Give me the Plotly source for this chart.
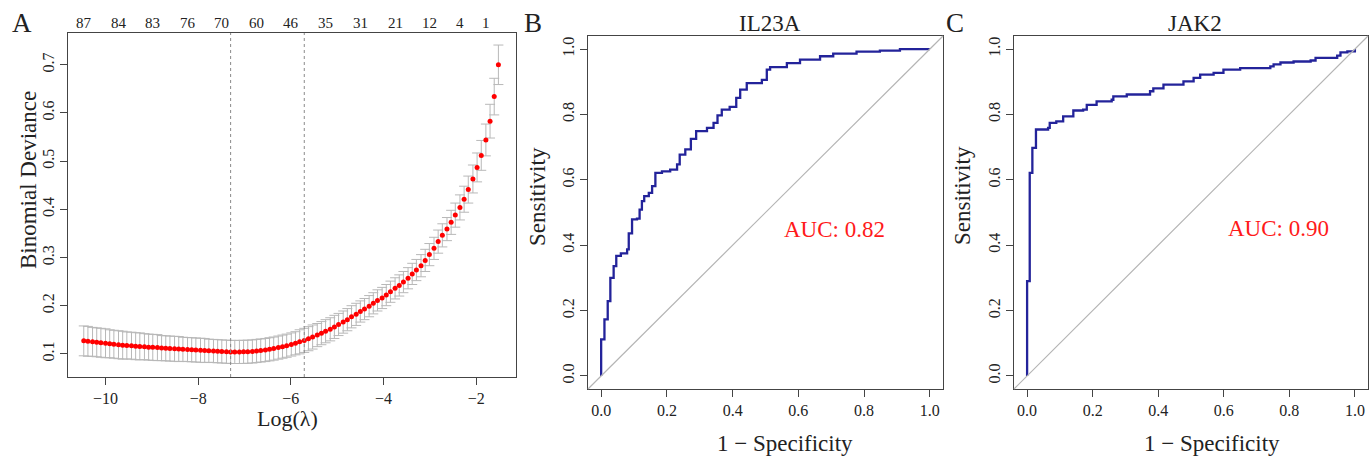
import plotly.graph_objects as go

W, H = 1371, 457
FONT = "Liberation Serif"
AXIS_COLOR = "#444444"

# ---------------------------------------------------------------------------
# Panel A: cross-validated LASSO (binomial deviance vs log lambda)
# ---------------------------------------------------------------------------
LOG_LAMBDA = [
    -10.47, -10.38, -10.28, -10.19, -10.10, -10.00, -9.91, -9.82, -9.72, -9.63,
    -9.54, -9.44, -9.35, -9.26, -9.16, -9.07, -8.98, -8.88, -8.79, -8.70,
    -8.61, -8.51, -8.42, -8.33, -8.23, -8.14, -8.05, -7.95, -7.86, -7.77,
    -7.67, -7.58, -7.49, -7.39, -7.30, -7.21, -7.11, -7.02, -6.93, -6.83,
    -6.74, -6.65, -6.55, -6.46, -6.37, -6.27, -6.18, -6.09, -5.99, -5.90,
    -5.81, -5.71, -5.62, -5.53, -5.43, -5.34, -5.25, -5.15, -5.06, -4.97,
    -4.87, -4.78, -4.69, -4.59, -4.50, -4.41, -4.31, -4.22, -4.13, -4.03,
    -3.94, -3.85, -3.75, -3.66, -3.57, -3.47, -3.38, -3.29, -3.19, -3.10,
    -3.01, -2.91, -2.82, -2.73, -2.63, -2.54, -2.45, -2.35, -2.26, -2.17,
    -2.07, -1.98, -1.89, -1.79, -1.70, -1.61, -1.52,
]
DEVIANCE = [
    0.127, 0.126, 0.125, 0.124, 0.123, 0.122, 0.121, 0.120, 0.119, 0.118,
    0.1175, 0.117, 0.116, 0.1155, 0.115, 0.114, 0.1135, 0.113, 0.112, 0.1115,
    0.111, 0.1105, 0.110, 0.1095, 0.109, 0.1085, 0.108, 0.1075, 0.107, 0.1065,
    0.106, 0.1055, 0.105, 0.1045, 0.104, 0.104, 0.104, 0.1042, 0.1045, 0.105,
    0.106, 0.107, 0.108, 0.1095, 0.111, 0.113, 0.115, 0.117, 0.1195, 0.122,
    0.125, 0.128, 0.1315, 0.135, 0.139, 0.143, 0.147, 0.151, 0.156, 0.161,
    0.166, 0.171, 0.177, 0.182, 0.188, 0.193, 0.199, 0.205, 0.211, 0.216,
    0.222, 0.229, 0.236, 0.242, 0.249, 0.257, 0.266, 0.274, 0.283, 0.294,
    0.306, 0.319, 0.333, 0.346, 0.359, 0.373, 0.388, 0.404, 0.421, 0.441,
    0.463, 0.487, 0.512, 0.544, 0.583, 0.634, 0.700,
]
DEVIANCE_SE = [
    0.031, 0.031, 0.030, 0.030, 0.030, 0.030, 0.029, 0.029, 0.029, 0.029,
    0.028, 0.028, 0.028, 0.028, 0.027, 0.027, 0.027, 0.027, 0.026, 0.026,
    0.026, 0.026, 0.026, 0.025, 0.025, 0.025, 0.025, 0.025, 0.025, 0.024,
    0.024, 0.024, 0.024, 0.024, 0.024, 0.024, 0.024, 0.024, 0.024, 0.024,
    0.024, 0.024, 0.024, 0.024, 0.024, 0.024, 0.024, 0.024, 0.024, 0.024,
    0.025, 0.025, 0.025, 0.025, 0.024, 0.024, 0.024, 0.024, 0.024, 0.023,
    0.023, 0.023, 0.023, 0.023, 0.022, 0.022, 0.022, 0.022, 0.022, 0.022,
    0.022, 0.022, 0.022, 0.022, 0.022, 0.022, 0.022, 0.022, 0.023, 0.023,
    0.023, 0.023, 0.024, 0.024, 0.024, 0.025, 0.025, 0.026, 0.027, 0.028,
    0.029, 0.030, 0.031, 0.033, 0.035, 0.038, 0.041,
]
LAMBDA_MIN = -7.30
LAMBDA_1SE = -5.71

# number of non-zero coefficients shown along the top
NZ_POS = [-10.47, -9.72, -8.98, -8.23, -7.49, -6.74, -5.99, -5.25, -4.50,
          -3.75, -3.01, -2.35, -1.79]
NZ_LABELS = ["87", "84", "83", "76", "70", "60", "46", "35", "31", "21", "12", "4", "1"]

A_XTICKS = [-10, -8, -6, -4, -2]
A_YTICKS = [0.1, 0.2, 0.3, 0.4, 0.5, 0.6, 0.7]

# ---------------------------------------------------------------------------
# Panels B and C: ROC curves
# ---------------------------------------------------------------------------
FPR_IL23A = [0, 0, 0.010, 0.020, 0.028, 0.038, 0.046, 0.060, 0.079, 0.084,
             0.094, 0.109, 0.117, 0.124, 0.131, 0.145, 0.155, 0.165, 0.185, 0.210,
             0.231, 0.239, 0.256, 0.273, 0.289, 0.322, 0.342, 0.354, 0.367, 0.391,
             0.411, 0.423, 0.443, 0.489, 0.504, 0.514, 0.565, 0.605, 0.666, 0.706,
             0.777, 0.848, 0.909, 1.0]
TPR_IL23A = [0, 0.112, 0.173, 0.229, 0.300, 0.336, 0.367, 0.375, 0.387, 0.436,
             0.479, 0.481, 0.509, 0.535, 0.550, 0.560, 0.581, 0.621, 0.626, 0.631,
             0.647, 0.677, 0.693, 0.725, 0.749, 0.759, 0.774, 0.797, 0.815, 0.823,
             0.851, 0.876, 0.896, 0.906, 0.937, 0.945, 0.957, 0.968, 0.978, 0.986,
             0.992, 0.995, 1.0, 1.0]

FPR_JAK2 = [0, 0, 0.008, 0.016, 0.027, 0.064, 0.069, 0.089, 0.110, 0.141,
            0.171, 0.182, 0.212, 0.258, 0.263, 0.304, 0.375, 0.385, 0.416, 0.477,
            0.508, 0.528, 0.569, 0.599, 0.650, 0.742, 0.752, 0.773, 0.813, 0.865,
            0.880, 0.946, 0.956, 0.977, 1.0]
TPR_JAK2 = [0, 0.290, 0.621, 0.698, 0.754, 0.759, 0.774, 0.779, 0.794, 0.812,
            0.815, 0.829, 0.840, 0.845, 0.855, 0.861, 0.871, 0.880, 0.891, 0.901,
            0.912, 0.922, 0.927, 0.937, 0.942, 0.947, 0.953, 0.959, 0.962, 0.965,
            0.973, 0.980, 0.990, 0.993, 1.0]

AUC_IL23A = 0.82
AUC_JAK2 = 0.90
ROC_TICKS = [0.0, 0.2, 0.4, 0.6, 0.8, 1.0]


def px(x):
    return x / W


def py(y):
    return 1 - y / H


fig = go.Figure()

# --- Panel A ---------------------------------------------------------------
fig.add_trace(go.Scatter(
    x=LOG_LAMBDA, y=DEVIANCE,
    mode="markers",
    marker=dict(size=5, color="#FF0000"),
    error_y=dict(type="data", array=DEVIANCE_SE, color="#B8B8B8",
                 thickness=1, width=5),
    xaxis="x", yaxis="y",
    showlegend=False,
))

for lam in (LAMBDA_MIN, LAMBDA_1SE):
    fig.add_shape(type="line", xref="x", yref="y domain",
                  x0=lam, x1=lam, y0=0, y1=1,
                  line=dict(color="#8A8A8A", width=1, dash="dot"))

# --- Panels B, C -----------------------------------------------------------
for fpr, tpr, ax in ((FPR_IL23A, TPR_IL23A, "2"), (FPR_JAK2, TPR_JAK2, "3")):
    fig.add_shape(type="line", xref=f"x{ax} domain", yref=f"y{ax} domain",
                  x0=0, y0=0, x1=1, y1=1,
                  line=dict(color="#B4B4B4", width=1.2))
    fig.add_trace(go.Scatter(
        x=fpr, y=tpr,
        mode="lines",
        line=dict(color="#23239A", width=2.3, shape="hv"),
        xaxis=f"x{ax}", yaxis=f"y{ax}",
        showlegend=False,
    ))

TICKFONT = dict(family=FONT, size=16, color="#222222")
axis_common = dict(
    showline=True, mirror=True, linecolor=AXIS_COLOR, linewidth=1,
    ticks="outside", ticklen=7, tickcolor=AXIS_COLOR, tickwidth=1,
    showgrid=False, zeroline=False, tickfont=TICKFONT,
)

fig.update_layout(
    width=W, height=H,
    autosize=False,
    margin=dict(l=0, r=0, t=0, b=0),
    paper_bgcolor="white",
    plot_bgcolor="white",
    font=dict(family=FONT, color="#222222"),
    xaxis=dict(domain=[px(68), px(516)], range=[-10.81, -1.14],
               tickvals=A_XTICKS, ticktext=["\u221210", "\u22128", "\u22126", "\u22124", "\u22122"],
               anchor="y", **axis_common),
    yaxis=dict(domain=[py(377), py(33)], range=[0.052, 0.766],
               tickvals=A_YTICKS, ticktext=[f"{v:.1f}" for v in A_YTICKS],
               tickangle=-90, anchor="x", **axis_common),
    xaxis2=dict(domain=[px(588), px(943)], range=[-0.04, 1.04],
                tickvals=ROC_TICKS, ticktext=[f"{v:.1f}" for v in ROC_TICKS],
                anchor="y2", **axis_common),
    yaxis2=dict(domain=[py(389), py(36)], range=[-0.04, 1.04],
                tickvals=ROC_TICKS, ticktext=[f"{v:.1f}" for v in ROC_TICKS],
                tickangle=-90, anchor="x2", **axis_common),
    xaxis3=dict(domain=[px(1014), px(1368)], range=[-0.04, 1.04],
                tickvals=ROC_TICKS, ticktext=[f"{v:.1f}" for v in ROC_TICKS],
                anchor="y3", **axis_common),
    yaxis3=dict(domain=[py(389), py(36)], range=[-0.04, 1.04],
                tickvals=ROC_TICKS, ticktext=[f"{v:.1f}" for v in ROC_TICKS],
                tickangle=-90, anchor="x3", **axis_common),
)

# top axis of panel A: non-zero coefficient counts
for pos, txt in zip(NZ_POS, NZ_LABELS):
    fig.add_annotation(
        text=txt, x=pos, y=py(23), xref="x", yref="paper",
        xanchor="center", yanchor="middle", showarrow=False,
        font=dict(family=FONT, size=15, color="#222222"),
    )


def label(text, x, y, size, color="#222222", angle=0):
    fig.add_annotation(
        text=text, x=px(x), y=py(y), xref="paper", yref="paper",
        xanchor="center", yanchor="middle", showarrow=False, textangle=angle,
        font=dict(family=FONT, size=size, color=color),
    )


# panel letters
label("A", 22, 23, 27)
label("B", 533, 23, 27)
label("C", 955, 23, 27)

# panel titles
label("IL23A", 770, 23, 23)
label("JAK2", 1195, 23, 23)

# axis titles
label("Log(\u03bb)", 287, 418, 22)
label("Binomial Deviance", 28, 180, 23, angle=-90)
label("Sensitivity", 538, 197, 23, angle=-90)
label("Sensitivity", 963, 196, 23, angle=-90)
label("1 \u2212 Specificity", 785, 443, 23)
label("1 \u2212 Specificity", 1212, 443, 23)

# AUC labels
label(f"AUC: {AUC_IL23A:.2f}", 834, 230, 23, color="#FF1A1A")
label(f"AUC: {AUC_JAK2:.2f}", 1278, 228, 23, color="#FF1A1A")

# the page's default body margin would shift the figure by 8px
fig.write_html("out.html", config={"displayModeBar": False},
               post_script="document.body.style.margin='0px';")
